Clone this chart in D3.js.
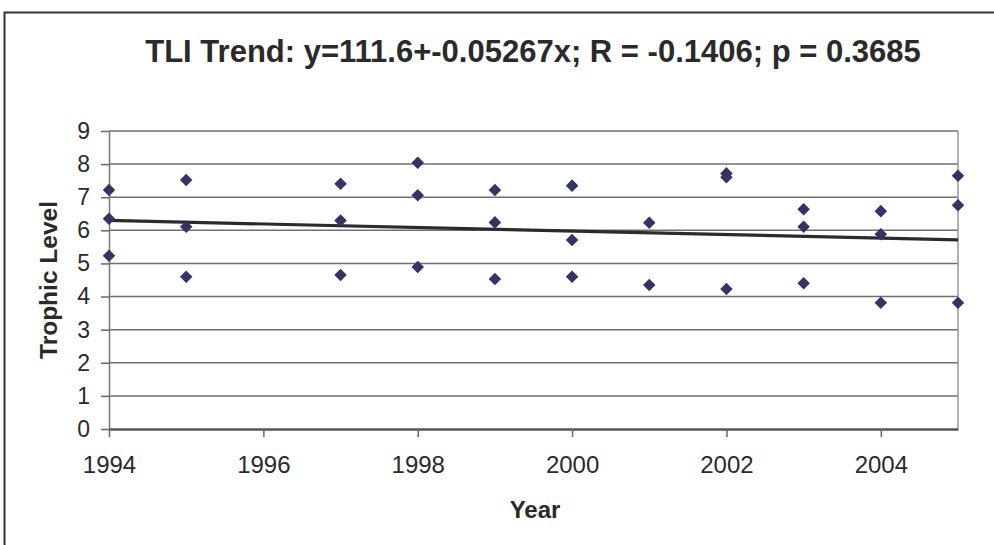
<!DOCTYPE html>
<html>
<head>
<meta charset="utf-8">
<script src="https://cdn.jsdelivr.net/npm/d3@7"></script>
<style>
  body { margin: 0; background: #fff; }
  svg { display: block; font-family: "Liberation Sans", Arial, sans-serif; }
</style>
</head>
<body>
<svg id="chart" width="994" height="545"></svg>
<script>
// data
const years = [1994, 1994, 1994, 1995, 1995, 1995, 1997, 1997, 1997,
  1998, 1998, 1998, 1999, 1999, 1999, 2000, 2000, 2000, 2001, 2001,
  2002, 2002, 2002, 2003, 2003, 2003, 2004, 2004, 2004, 2005, 2005, 2005];
const levels = [7.22, 6.35, 5.23, 7.52, 6.11, 4.60, 7.41, 6.30, 4.65,
  8.04, 7.06, 4.89, 7.22, 6.24, 4.53, 7.35, 5.71, 4.60, 6.23, 4.35,
  7.72, 7.60, 4.23, 6.64, 6.11, 4.40, 6.58, 5.88, 3.81, 7.65, 6.76, 3.81];
const trendYears = [1994, 2005];
const trendLevels = [6.30, 5.71];
const xTicks = [1994, 1996, 1998, 2000, 2002, 2004];
const yTicks = [0, 1, 2, 3, 4, 5, 6, 7, 8, 9];
const title = "TLI Trend: y=111.6+-0.05267x; R = -0.1406; p = 0.3685";

const svg = d3.select("#chart");
const mLeft = 109, mRight = 958, mTop = 131, mBottom = 429;
const txt = "#2a2a2a";

const x = d3.scaleLinear().domain([1994, 2005]).range([mLeft, mRight]);
const y = d3.scaleLinear().domain([0, 9]).range([mBottom, mTop]);

// outer frame
svg.append("path")
  .attr("d", `M4.5,545V12.5H994`)
  .attr("fill", "none")
  .attr("stroke", "#333")
  .attr("stroke-width", 2);

// title
svg.append("text")
  .attr("x", 533)
  .attr("y", 62)
  .attr("text-anchor", "middle")
  .attr("font-size", "31px")
  .attr("font-weight", "bold")
  .attr("fill", txt)
  .text(title);

// gridlines
svg.append("g")
  .selectAll("line")
  .data(yTicks.filter(d => d > 0))
  .join("line")
  .attr("x1", mLeft).attr("x2", mRight)
  .attr("y1", d => y(d)).attr("y2", d => y(d))
  .attr("stroke", "#6f6f6f")
  .attr("stroke-width", 1.5);

// right edge of plot
svg.append("line")
  .attr("x1", mRight).attr("x2", mRight)
  .attr("y1", mTop).attr("y2", mBottom)
  .attr("stroke", "#999")
  .attr("stroke-width", 1.5);

// y axis
const yAxis = svg.append("g")
  .attr("transform", `translate(${mLeft},0)`)
  .call(d3.axisLeft(y).tickValues(yTicks).tickSize(8).tickSizeOuter(0).tickPadding(11));
yAxis.select(".domain").attr("stroke", "#777").attr("stroke-width", 1.5);
yAxis.selectAll(".tick line").attr("stroke", "#666").attr("stroke-width", 1.5);
yAxis.selectAll("text")
  .attr("font-size", "23px")
  .attr("font-family", "Liberation Sans, Arial, sans-serif")
  .attr("fill", txt);

// x axis
const xAxis = svg.append("g")
  .attr("transform", `translate(0,${mBottom})`)
  .call(d3.axisBottom(x).tickValues(xTicks).tickFormat(d3.format("d"))
    .tickSize(8).tickSizeOuter(0).tickPadding(19));
xAxis.select(".domain").attr("stroke", "#555").attr("stroke-width", 2.5);
xAxis.selectAll(".tick line").attr("stroke", "#666").attr("stroke-width", 1.5);
xAxis.selectAll("text")
  .attr("font-size", "24px")
  .attr("font-family", "Liberation Sans, Arial, sans-serif")
  .attr("fill", txt);

// axis titles
svg.append("text")
  .attr("transform", `translate(57,280) rotate(-90)`)
  .attr("text-anchor", "middle")
  .attr("font-size", "24.5px")
  .attr("font-weight", "bold")
  .attr("fill", txt)
  .text("Trophic Level");

svg.append("text")
  .attr("x", 535)
  .attr("y", 518)
  .attr("text-anchor", "middle")
  .attr("font-size", "24px")
  .attr("font-weight", "bold")
  .attr("fill", txt)
  .text("Year");

// trend line
svg.append("path")
  .datum(d3.zip(trendYears, trendLevels))
  .attr("d", d3.line().x(d => x(d[0])).y(d => y(d[1])))
  .attr("fill", "none")
  .attr("stroke", "#2b2b2b")
  .attr("stroke-width", 3.2);

// points
const diamond = d3.symbol().type(d3.symbolDiamond2).size(100);
svg.append("g")
  .selectAll("path")
  .data(d3.zip(years, levels))
  .join("path")
  .attr("d", diamond)
  .attr("transform", d => `translate(${x(d[0])},${y(d[1])})`)
  .attr("fill", "#333366");
</script>
</body>
</html>
